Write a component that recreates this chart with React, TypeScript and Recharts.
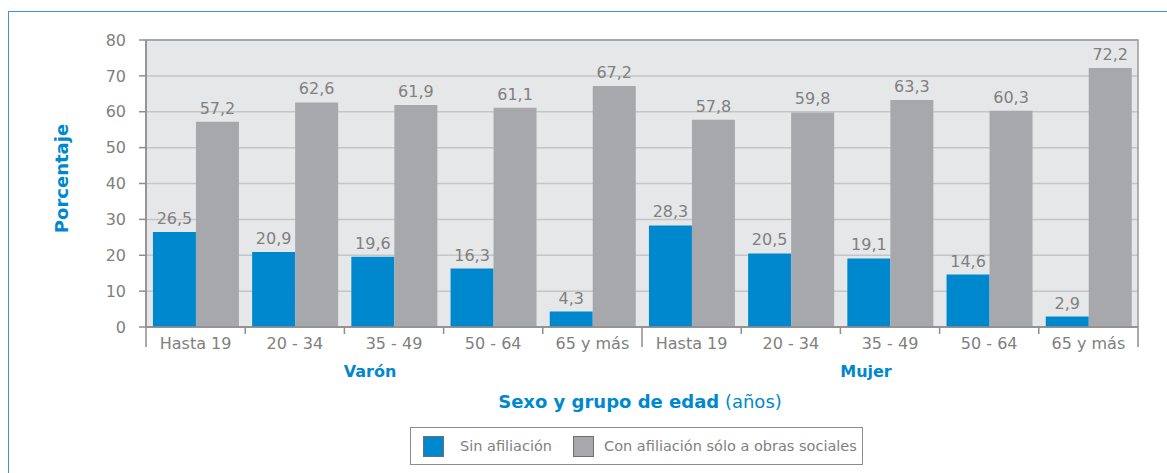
import { BarChart, Bar, XAxis, YAxis, CartesianGrid, LabelList, Legend, ReferenceArea } from 'recharts';

const sexos = ['Varón', 'Mujer'];
const edades = ['Hasta 19', '20 - 34', '35 - 49', '50 - 64', '65 y más'];
const sinAfiliacion = [26.5, 20.9, 19.6, 16.3, 4.3, 28.3, 20.5, 19.1, 14.6, 2.9];
const conObrasSociales = [57.2, 62.6, 61.9, 61.1, 67.2, 57.8, 59.8, 63.3, 60.3, 72.2];
const yTicks = [0, 10, 20, 30, 40, 50, 60, 70, 80];
const seriesNames = ['Sin afiliación', 'Con afiliación sólo a obras sociales'];

const data = sexos.flatMap((sexo, s) =>
  edades.map((edad, e) => ({
    key: `${sexo} ${edad}`,
    sexo,
    edad,
    sin: sinAfiliacion[s * edades.length + e],
    con: conObrasSociales[s * edades.length + e],
  }))
);

const W = 1167;
const H = 473;
const MARGIN = { top: 40, right: 29, left: 0, bottom: 0 };
const Y_W = 146;
const X_H = 146;
const BAND = (W - MARGIN.left - MARGIN.right - Y_W) / data.length;

const BLUE = '#0088cf';
const GRAY = '#a7a8ab';
const TXT = '#808080';
const AXIS = '#8e8e8e';

const fmt = (v: number) => v.toFixed(1).replace('.', ',');

function EdadTick(props: any) {
  const { x, y, payload } = props;
  const i = data.findIndex((d) => d.key === payload.value);
  const row = data[i];
  const first = i % edades.length === 0;
  const last = i === data.length - 1;
  const left = x - BAND / 2;
  const right = x + BAND / 2;
  return (
    <g>
      <line x1={left} x2={left} y1={y} y2={y + (first ? 20 : 7)} stroke={AXIS} strokeWidth={1.5} />
      {last && <line x1={right} x2={right} y1={y} y2={y + 20} stroke={AXIS} strokeWidth={1.5} />}
      <text x={x} y={y + 22} textAnchor="middle" fill={TXT} fontSize={16}>
        {row.edad}
      </text>
      {i % edades.length === 2 && (
        <text x={x - 24} y={y + 50} textAnchor="middle" fill={BLUE} fontSize={16} fontWeight="bold">
          {row.sexo}
        </text>
      )}
    </g>
  );
}

function TituloX(props: any) {
  const { x, y, width } = props.viewBox;
  return (
    <text x={x + width / 2 - 2} y={y + 81} textAnchor="middle" fontSize={18} fill={BLUE}>
      <tspan fontWeight="bold">Sexo y grupo de edad</tspan>
      <tspan> (años)</tspan>
    </text>
  );
}

function TituloY(props: any) {
  const { x, y, height } = props.viewBox;
  const cx = x + 68;
  const cy = y + height / 2 - 5;
  return (
    <text
      x={cx}
      y={cy}
      textAnchor="middle"
      fontSize={18}
      fontWeight="bold"
      fill={BLUE}
      transform={`rotate(-90 ${cx} ${cy})`}
    >
      Porcentaje
    </text>
  );
}

function Leyenda(props: any) {
  const items = [...(props.payload || [])].sort(
    (a: any, b: any) => seriesNames.indexOf(a.value) - seriesNames.indexOf(b.value)
  );
  return (
    <div
      style={{
        boxSizing: 'border-box',
        width: '100%',
        height: '100%',
        border: '1.5px solid #8c8c8c',
        display: 'flex',
        alignItems: 'center',
        paddingLeft: 12,
        fontFamily: 'DejaVu Sans',
        fontSize: 14.5,
        color: TXT,
      }}
    >
      {items.map((it: any, k: number) => (
        <div key={it.value} style={{ display: 'flex', alignItems: 'center', marginLeft: k === 0 ? 0 : 21 }}>
          <div
            style={{
              boxSizing: 'border-box',
              width: 21,
              height: 21,
              background: it.color,
              border: '1.5px solid #6f6f6f',
            }}
          />
          <span style={{ marginLeft: k === 0 ? 16 : 10 }}>{it.value}</span>
        </div>
      ))}
    </div>
  );
}

export default function App() {
  return (
    <div style={{ position: 'absolute', left: 0, top: 0, width: W, height: H, background: '#fff' }}>
      <div
        style={{
          position: 'absolute',
          left: 8,
          top: 11,
          width: W - 8,
          height: H - 11,
          boxSizing: 'border-box',
          borderTop: '1.5px solid #3a98d8',
          borderLeft: '1.5px solid #3a98d8',
        }}
      />
      <BarChart
        width={W}
        height={H}
        data={data}
        margin={MARGIN}
        barCategoryGap="7%"
        barGap={0}
        style={{ fontFamily: 'DejaVu Sans' }}
      >
        <CartesianGrid fill="#e6e7e9" fillOpacity={1} stroke="#c4c5c7" strokeWidth={1.5} vertical={false} />
        <ReferenceArea y1={0} y2={80} fill="none" stroke="#9a9a9a" strokeWidth={1.5} />
        <XAxis
          dataKey="key"
          height={X_H}
          tickLine={false}
          tickSize={0}
          tickMargin={0}
          interval={0}
          axisLine={{ stroke: AXIS, strokeWidth: 1.5 }}
          tick={<EdadTick />}
          label={{ content: <TituloX /> }}
        />
        <YAxis
          width={Y_W}
          domain={[0, 80]}
          ticks={yTicks}
          interval={0}
          tickSize={7}
          tickMargin={13}
          tickLine={{ stroke: AXIS, strokeWidth: 1.5 }}
          axisLine={{ stroke: AXIS, strokeWidth: 1.5 }}
          tick={{ fill: TXT, fontSize: 16 }}
          label={{ content: <TituloY /> }}
        />
        <Bar dataKey="sin" name={seriesNames[0]} fill={BLUE} isAnimationActive={false}>
          <LabelList dataKey="sin" position="top" offset={8} fill={TXT} fontSize={16} formatter={(v: any) => fmt(Number(v))} />
        </Bar>
        <Bar dataKey="con" name={seriesNames[1]} fill={GRAY} isAnimationActive={false}>
          <LabelList dataKey="con" position="top" offset={8} fill={TXT} fontSize={16} formatter={(v: any) => fmt(Number(v))} />
        </Bar>
        <Legend
          layout="vertical"
          align="center"
          verticalAlign="middle"
          wrapperStyle={{ position: 'absolute', left: 410, top: 427, width: 453, height: 38 }}
          content={<Leyenda />}
        />
      </BarChart>
    </div>
  );
}
